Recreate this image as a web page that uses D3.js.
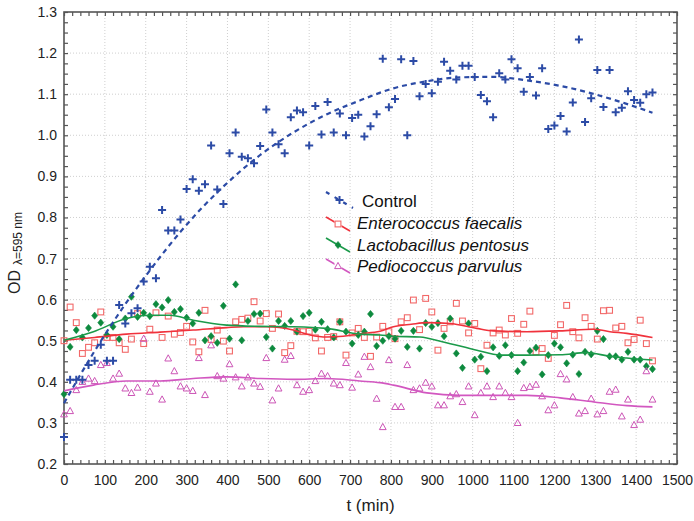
<!DOCTYPE html>
<html>
<head>
<meta charset="utf-8">
<script src="https://cdn.jsdelivr.net/npm/d3@7"></script>
<style>
  html, body { margin: 0; padding: 0; background: #fff; }
  svg { display: block; font-family: "Liberation Sans", Arial, sans-serif; }
</style>
</head>
<body>
<div id="chart"></div>
<script>
// Sampling times (min), one reading every 15 minutes over 24 h
const times = [0,15,30,45,60,75,90,105,120,135,150,165,180,195,210,225,240,255,270,285,300,315,330,345,360,375,390,405,420,435,450,465,480,495,510,525,540,555,570,585,600,615,630,645,660,675,690,705,720,735,750,765,780,795,810,825,840,855,870,885,900,915,930,945,960,975,990,1005,1020,1035,1050,1065,1080,1095,1110,1125,1140,1155,1170,1185,1200,1215,1230,1245,1260,1275,1290,1305,1320,1335,1350,1365,1380,1395,1410,1425,1440];

// OD readings per culture
const control = [0.266,0.405,0.405,0.405,0.441,0.451,0.490,0.451,0.451,0.587,0.542,0.567,0.579,0.644,0.680,0.652,0.818,0.768,0.768,0.795,0.869,0.893,0.865,0.881,0.975,0.868,0.833,0.956,1.007,0.948,0.944,0.932,0.974,1.063,1.007,0.978,0.956,1.044,1.060,1.056,0.975,1.071,1.002,1.081,1.007,1.053,1.000,1.042,1.050,0.997,1.022,1.051,1.186,1.068,1.088,1.185,1.000,1.181,1.095,1.125,1.102,1.130,1.179,1.157,1.136,1.169,1.169,1.142,1.098,1.083,1.044,1.151,1.136,1.185,1.163,1.106,1.142,1.097,1.163,1.015,1.024,1.047,1.009,1.080,1.233,1.032,1.090,1.159,1.069,1.159,1.056,1.067,1.107,1.086,1.079,1.100,1.104];

const faecalis = [0.500,0.582,0.544,0.469,0.484,0.495,0.570,0.508,0.508,0.495,0.479,0.504,0.566,0.493,0.528,0.568,0.508,0.560,0.516,0.520,0.535,0.497,0.473,0.574,0.503,0.526,0.499,0.475,0.546,0.552,0.555,0.595,0.548,0.566,0.530,0.565,0.471,0.488,0.523,0.522,0.523,0.507,0.475,0.508,0.510,0.546,0.465,0.519,0.530,0.508,0.462,0.509,0.535,0.522,0.505,0.546,0.556,0.599,0.527,0.603,0.570,0.477,0.530,0.546,0.591,0.548,0.519,0.542,0.432,0.489,0.519,0.526,0.514,0.554,0.518,0.540,0.572,0.473,0.481,0.457,0.513,0.539,0.586,0.522,0.507,0.556,0.535,0.504,0.573,0.574,0.531,0.535,0.495,0.503,0.550,0.493,0.451];

const pentosus = [0.370,0.485,0.526,0.508,0.531,0.561,0.544,0.514,0.534,0.504,0.554,0.607,0.558,0.568,0.560,0.589,0.581,0.599,0.570,0.577,0.556,0.542,0.568,0.501,0.511,0.495,0.585,0.505,0.637,0.501,0.548,0.565,0.566,0.509,0.481,0.548,0.536,0.548,0.522,0.560,0.568,0.527,0.546,0.528,0.508,0.546,0.522,0.493,0.514,0.522,0.565,0.487,0.500,0.511,0.505,0.524,0.485,0.524,0.481,0.543,0.534,0.543,0.511,0.554,0.469,0.434,0.542,0.454,0.461,0.426,0.484,0.463,0.489,0.465,0.426,0.447,0.475,0.483,0.418,0.465,0.493,0.484,0.445,0.466,0.419,0.473,0.467,0.524,0.504,0.462,0.462,0.454,0.473,0.454,0.454,0.438,0.431];

const parvulus = [0.321,0.329,0.380,0.400,0.408,0.402,0.441,0.446,0.408,0.420,0.384,0.373,0.386,0.505,0.376,0.396,0.357,0.457,0.426,0.389,0.384,0.378,0.458,0.368,0.489,0.414,0.408,0.443,0.411,0.389,0.411,0.396,0.388,0.458,0.355,0.384,0.454,0.463,0.392,0.376,0.380,0.402,0.420,0.414,0.396,0.392,0.446,0.386,0.418,0.461,0.436,0.359,0.290,0.453,0.339,0.339,0.441,0.380,0.384,0.398,0.389,0.343,0.343,0.365,0.370,0.351,0.389,0.319,0.373,0.389,0.363,0.389,0.373,0.363,0.300,0.385,0.388,0.393,0.365,0.331,0.343,0.419,0.406,0.363,0.323,0.329,0.359,0.321,0.329,0.376,0.381,0.316,0.357,0.295,0.308,0.426,0.357];

// Fitted trend curves (t, OD)
const controlFitT = [0,70,150,210,285,340,415,480,560,645,725,805,885,970,1050,1130,1215,1295,1375,1440];
const controlFitV = [0.348,0.467,0.589,0.671,0.765,0.826,0.898,0.952,1.006,1.052,1.085,1.114,1.131,1.141,1.142,1.134,1.120,1.101,1.077,1.055];
const faecalisFitT = [0,75,153,235,316,398,439,496,561,602,643,683,724,773,806,850,888,945,1010,1051,1133,1214,1296,1336,1377,1440];
const faecalisFitV = [0.501,0.508,0.516,0.521,0.526,0.532,0.534,0.534,0.526,0.514,0.509,0.511,0.517,0.523,0.534,0.540,0.544,0.542,0.530,0.524,0.522,0.524,0.528,0.522,0.518,0.508];
const pentosusFitT = [0,72,153,210,259,316,398,480,561,643,724,773,806,871,928,1010,1067,1133,1214,1279,1336,1377,1440];
const pentosusFitV = [0.501,0.522,0.554,0.562,0.562,0.550,0.538,0.535,0.534,0.530,0.516,0.514,0.511,0.509,0.497,0.477,0.465,0.465,0.466,0.471,0.462,0.458,0.453];
const parvulusFitT = [0,72,153,235,316,398,480,561,643,724,773,806,888,969,1051,1133,1214,1296,1377,1440];
const parvulusFitV = [0.378,0.392,0.402,0.402,0.408,0.412,0.408,0.406,0.408,0.402,0.398,0.392,0.373,0.367,0.367,0.367,0.361,0.351,0.342,0.339];

// Axis ticks
const xTickLabels = [0,100,200,300,400,500,600,700,800,900,1000,1100,1200,1300,1400,1500];
const yTickLabels = [0.2,0.3,0.4,0.5,0.6,0.7,0.8,0.9,1.0,1.1,1.2,1.3];

const legendNames = ["Control", "Enterococcus faecalis", "Lactobacillus pentosus", "Pediococcus parvulus"];

const W = 694, H = 521;
const L = 64, R = 677, T = 12, B = 464;

const svg = d3.select("#chart").append("svg").attr("width", W).attr("height", H);

const x = d3.scaleLinear().domain([0, 1500]).range([L, R]);
const y = d3.scaleLinear().domain([0.2, 1.3]).range([B, T]);

// dotted grid at the labelled ticks
const grid = svg.append("g").attr("stroke", "#cfcfcf").attr("stroke-width", 1).attr("stroke-dasharray", "1,2");
grid.selectAll("line.gx").data(xTickLabels.slice(1, -1)).join("line")
  .attr("x1", d => x(d)).attr("x2", d => x(d)).attr("y1", T).attr("y2", B);
grid.selectAll("line.gy").data(yTickLabels.slice(1, -1)).join("line")
  .attr("x1", L).attr("x2", R).attr("y1", d => y(d)).attr("y2", d => y(d));

// minor inward ticks on all four sides
const minorX = d3.range(0, 1501, 20);
const minorY = d3.range(0, 45).map(i => 0.2 + i * 0.025);
const tickStyle = g => g.call(s => s.select(".domain").remove())
  .call(s => s.selectAll("line").attr("stroke", "#555").attr("stroke-width", 1.2));
svg.append("g").attr("transform", `translate(0,${B})`)
  .call(d3.axisBottom(x).tickValues(minorX).tickSize(-4).tickFormat("")).call(tickStyle);
svg.append("g").attr("transform", `translate(0,${T})`)
  .call(d3.axisTop(x).tickValues(minorX).tickSize(-4).tickFormat("")).call(tickStyle);
svg.append("g").attr("transform", `translate(${L},0)`)
  .call(d3.axisLeft(y).tickValues(minorY).tickSize(-4).tickFormat("")).call(tickStyle);
svg.append("g").attr("transform", `translate(${R},0)`)
  .call(d3.axisRight(y).tickValues(minorY).tickSize(-4).tickFormat("")).call(tickStyle);

// tick labels
const labStyle = g => g.call(s => s.select(".domain").remove())
  .call(s => s.selectAll("text").attr("fill", "#222").style("font-size", "14px")
    .style("font-family", "'Liberation Sans', Arial, sans-serif"));
svg.append("g").attr("transform", `translate(0,${B})`)
  .call(d3.axisBottom(x).tickValues(xTickLabels).tickSize(0).tickPadding(11).tickFormat(d3.format("d")))
  .call(labStyle);
svg.append("g").attr("transform", `translate(${L},0)`)
  .call(d3.axisLeft(y).tickValues(yTickLabels).tickSize(0).tickPadding(7).tickFormat(d3.format(".1f")))
  .call(labStyle);

// frame
svg.append("rect").attr("x", L).attr("y", T).attr("width", R - L).attr("height", B - T)
  .attr("fill", "none").attr("stroke", "#555").attr("stroke-width", 1.6);

// axis titles
svg.append("text").attr("x", (L + R) / 2).attr("y", 511).attr("text-anchor", "middle")
  .attr("fill", "#222").style("font-size", "17px").text("t (min)");
svg.append("text").attr("transform", "translate(20,294) rotate(-90)")
  .attr("fill", "#222").style("font-size", "16px").text("OD");
svg.append("text").attr("transform", "translate(22,265) rotate(-90)")
  .attr("fill", "#222").style("font-size", "12px").text("λ=595 nm");

// marker shapes
const plusPath = "M-4,0H4M0,-4V4";
const diamondPath = "M0,-3.6L3,0L0,3.6L-3,0Z";
const trianglePath = "M0,-3.6L3.4,2.6L-3.4,2.6Z";

const series = [
  { name: legendNames[0], vals: control, fitT: controlFitT, fitV: controlFitV, line: "#2c4ba6", dash: "5,4", width: 2.2 },
  { name: legendNames[1], vals: faecalis, fitT: faecalisFitT, fitV: faecalisFitV, line: "#f0323c", dash: null, width: 1.6 },
  { name: legendNames[2], vals: pentosus, fitT: pentosusFitT, fitV: pentosusFitV, line: "#1b9a4a", dash: null, width: 1.6 },
  { name: legendNames[3], vals: parvulus, fitT: parvulusFitT, fitV: parvulusFitV, line: "#d257c0", dash: null, width: 1.6 }
];

function drawMarker(sel, i) {
  if (i === 0) {
    sel.append("path").attr("d", plusPath).attr("stroke", "#2c4ba6").attr("stroke-width", 2).attr("fill", "none");
  } else if (i === 1) {
    sel.append("rect").attr("x", -2.9).attr("y", -2.9).attr("width", 5.8).attr("height", 5.8)
      .attr("fill", "none").attr("stroke", "#f26868").attr("stroke-width", 1.1);
  } else if (i === 2) {
    sel.append("path").attr("d", diamondPath).attr("fill", "#0d8a3e").attr("stroke", "#0d8a3e").attr("stroke-width", 0.6);
  } else {
    sel.append("path").attr("d", trianglePath).attr("fill", "none").attr("stroke", "#cc55b6").attr("stroke-width", 1);
  }
}

const plot = svg.append("g");
const drawOrder = [1, 2, 3, 0];
drawOrder.forEach(i => {
  const s = series[i];
  const g = plot.append("g");
  times.forEach((t, k) => {
    const m = g.append("g").attr("transform", `translate(${x(t)},${y(s.vals[k])})`);
    drawMarker(m, i);
  });
});
const trend = d3.line().x(d => x(d[0])).y(d => y(d[1])).curve(d3.curveMonotoneX);
drawOrder.forEach(i => {
  const s = series[i];
  const pts = s.fitT.map((t, k) => [t, s.fitV[k]]);
  const path = plot.append("path").datum(pts)
    .attr("d", trend)
    .attr("fill", "none").attr("stroke", s.line).attr("stroke-width", s.width);
  if (s.dash) path.attr("stroke-dasharray", s.dash);
});

// legend
const legendRows = [
  { textX: 362, base: 207, x1: 326, y1: 192, x2: 353, y2: 208, italic: false },
  { textX: 357, base: 229, x1: 326, y1: 217, x2: 350, y2: 231, italic: true },
  { textX: 357, base: 250.5, x1: 326, y1: 238, x2: 350, y2: 252, italic: true },
  { textX: 357, base: 272, x1: 326, y1: 259, x2: 350, y2: 273, italic: true }
];
const legend = svg.append("g");
legendRows.forEach((r, i) => {
  const s = series[i];
  const ln = legend.append("line").attr("x1", r.x1).attr("y1", r.y1).attr("x2", r.x2).attr("y2", r.y2)
    .attr("stroke", s.line).attr("stroke-width", s.width);
  if (s.dash) ln.attr("stroke-dasharray", "4,6");
  const m = legend.append("g").attr("transform", `translate(${(r.x1 + r.x2) / 2},${(r.y1 + r.y2) / 2})`);
  if (i === 1 || i === 3) {
    m.append("rect").attr("x", -3.5).attr("y", -3.5).attr("width", 7).attr("height", 7).attr("fill", "#fff").attr("stroke", "none");
  }
  drawMarker(m, i);
  legend.append("text").attr("x", r.textX).attr("y", r.base).attr("fill", "#111")
    .style("font-size", "17px").style("font-style", r.italic ? "italic" : "normal")
    .text(s.name);
});
</script>
</body>
</html>
